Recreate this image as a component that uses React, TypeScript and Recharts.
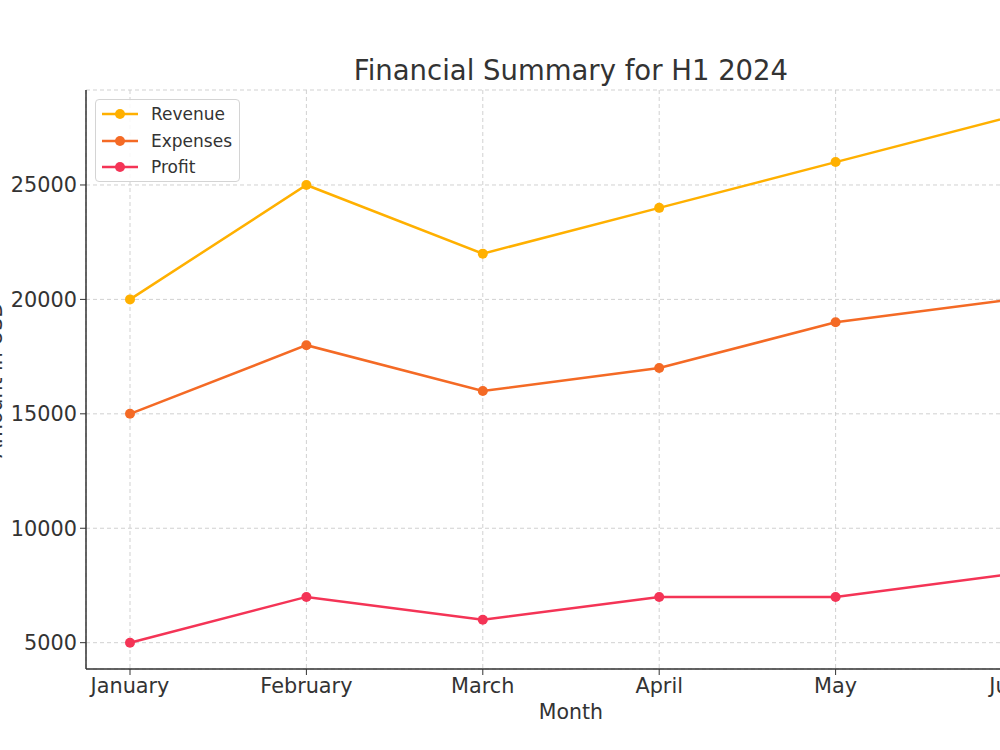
import { CartesianGrid, Line, LineChart, XAxis, YAxis } from "recharts";

const months = ["January", "February", "March", "April", "May", "June"];
const revenue = [20000, 25000, 22000, 24000, 26000, 28000];
const expenses = [15000, 18000, 16000, 17000, 19000, 20000];
const profit = [5000, 7000, 6000, 7000, 7000, 8000];
const yTicks = [5000, 10000, 15000, 20000, 25000];

const SERIES = [
  { key: "Revenue", color: "#ffb000" },
  { key: "Expenses", color: "#f46a25" },
  { key: "Profit", color: "#f43456" },
];

const FONT = "'DejaVu Sans', sans-serif";
const INK = "#333333";

const data = months.map((m, i) => ({
  month: m,
  Revenue: revenue[i],
  Expenses: expenses[i],
  Profit: profit[i],
}));

function LegendBox() {
  return (
    <div
      style={{
        position: "absolute",
        left: 95,
        top: 99,
        width: 145,
        height: 83,
        border: "1px solid #d4d4d4",
        borderRadius: 4,
        background: "rgba(255,255,255,0.85)",
        fontFamily: FONT,
        fontSize: 17,
        color: INK,
        boxSizing: "border-box",
      }}
    >
      {SERIES.map((s, i) => (
        <div key={s.key} style={{ position: "absolute", left: 5, top: 1 + i * 26.5, height: 26, display: "flex", alignItems: "center" }}>
          <svg width={38} height={14} style={{ display: "block" }}>
            <line x1={1} y1={7} x2={37} y2={7} stroke={s.color} strokeWidth={2.5} />
            <circle cx={19} cy={7} r={5} fill={s.color} />
          </svg>
          <span style={{ marginLeft: 12, lineHeight: "26px" }}>{s.key}</span>
        </div>
      ))}
    </div>
  );
}

export default function App() {
  return (
    <div
      style={{
        position: "fixed",
        left: 0,
        top: 0,
        width: 1000,
        height: 750,
        overflow: "hidden",
        background: "#fff",
      }}
    >
      <LineChart
        width={1080}
        height={750}
        data={data}
        margin={{ top: 90, right: 24, bottom: 51, left: 0 }}
        style={{ fontFamily: FONT }}
      >
        <CartesianGrid stroke="#cccccc" strokeDasharray="4 3" strokeWidth={0.9} />
        <XAxis
          dataKey="month"
          height={30}
          padding={{ left: 44, right: 44 }}
          tick={{ fill: INK, fontSize: 20.8, fontFamily: FONT }}
          tickSize={6}
          tickMargin={3}
          stroke={INK}
          strokeWidth={1.5}
          tickLine={{ stroke: INK, strokeWidth: 1 }}
          interval={0}
        />
        <YAxis
          width={86}
          domain={[3850, 29150]}
          ticks={yTicks}
          allowDataOverflow
          tick={{ fill: INK, fontSize: 20.8, fontFamily: FONT }}
          tickSize={6}
          tickMargin={3}
          stroke={INK}
          strokeWidth={1.5}
          tickLine={{ stroke: INK, strokeWidth: 1 }}
        />
        {SERIES.map((s) => (
          <Line
            key={s.key}
            type="linear"
            dataKey={s.key}
            stroke={s.color}
            strokeWidth={2.5}
            dot={{ r: 5, fill: s.color, stroke: s.color, strokeWidth: 0 }}
            activeDot={false}
            isAnimationActive={false}
          />
        ))}
      </LineChart>

      <div
        style={{
          position: "absolute",
          left: 0,
          width: 1142,
          top: 53,
          textAlign: "center",
          fontFamily: FONT,
          fontSize: 27.5,
          color: INK,
          lineHeight: "34px",
        }}
      >
        Financial Summary for H1 2024
      </div>

      <div
        style={{
          position: "absolute",
          left: 0,
          width: 1142,
          top: 699,
          textAlign: "center",
          fontFamily: FONT,
          fontSize: 20.5,
          color: INK,
          lineHeight: "26px",
        }}
      >
        Month
      </div>

      <div
        style={{
          position: "absolute",
          left: -105,
          top: 367,
          width: 200,
          textAlign: "center",
          fontFamily: FONT,
          fontSize: 20.5,
          color: INK,
          lineHeight: "26px",
          transform: "rotate(-90deg)",
        }}
      >
        Amount in USD
      </div>

      <LegendBox />
    </div>
  );
}
